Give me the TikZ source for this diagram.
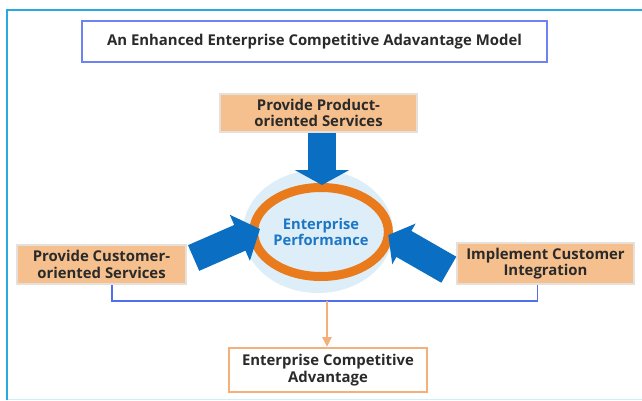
\documentclass[tikz,border=0pt]{standalone}
\usepackage{fontspec}
\setmainfont{Open Sans}
\usetikzlibrary{arrows.meta,shapes.geometric}

\definecolor{framecyan}{HTML}{2AA9E0}
\definecolor{framepale}{HTML}{CDEFFA}
\definecolor{titleblue}{HTML}{6E82F2}
\definecolor{boxfill}{HTML}{F5C08E}
\definecolor{boxedge}{HTML}{E6E0DA}
\definecolor{arrowblue}{HTML}{0A6FC2}
\definecolor{halo}{HTML}{DDEEF8}
\definecolor{ringorange}{HTML}{E97B1C}
\definecolor{perftext}{HTML}{1B77C6}
\definecolor{busblue}{HTML}{4F6EF0}
\definecolor{flow}{HTML}{F4B07A}
\definecolor{ink}{HTML}{2A2A2A}

\tikzset{
  boxtext/.style={font=\fontsize{14.9}{16.5}\selectfont\bfseries, text=ink, align=center, inner sep=0pt},
  titlebox/.style={boxtext, draw=titleblue, line width=1.5pt, fill=white},
  factor/.style={boxtext, fill=boxfill, draw=boxedge, line width=2pt},
  outcome/.style={boxtext, fill=white, draw=flow, line width=2pt},
  bigarrow/.style={draw=arrowblue, line width=#1},
  bus/.style={draw=busblue, line width=1.5pt},
  flowarrow/.style={draw=flow, line width=2.5pt, -{Triangle[length=10pt,width=9pt]}},
}

\begin{document}
\begin{tikzpicture}[x=1pt,y=-1pt]
\useasboundingbox (0,0) rectangle (642,401);
\clip (0,0) rectangle (642,401);
\fill[white] (0,0) rectangle (642,401);

% outer frame, running off the right-hand edge
\draw[framepale, line width=1.5pt] (7,399.5) -- (680,399.5);
\draw[framecyan, line width=1.5pt] (680,10) -- (7,10) -- (7,399.5);

% title
\node[titlebox, minimum width=465, minimum height=41] (title) at (314.5,41.5)
  {An Enhanced Enterprise Competitive Adavantage Model};

% central performance core
\node[ellipse, fill=halo, minimum width=150, minimum height=123, inner sep=0pt] (halo) at (318,231.5) {};
\node[ellipse, draw=ringorange, line width=9pt, minimum width=113, minimum height=89, inner sep=0pt,
      align=center, text=perftext, font=\fontsize{14.7}{16.5}\selectfont\bfseries] (perf) at (321,232)
  {Enterprise\\Performance};

% driving factors
\node[factor, minimum width=197, minimum height=38] (product) at (318.5,113)
  {Provide Product-\\oriented Services};
\node[factor, minimum width=169, minimum height=39] (customer) at (101.5,264.5)
  {Provide Customer-\\oriented Services};
\node[factor, minimum width=177, minimum height=41] (integration) at (545.5,263.5)
  {Implement Customer\\Integration};

% block arrows into the core
\coordinate (toptip) at (322,185);
\coordinate (ltail) at (193.6,258);
\coordinate (ltip) at (260,229);
\coordinate (rtail) at (448.8,269.7);
\coordinate (rtip) at (388.3,235);
\draw[bigarrow=28pt, -{Triangle[length=15pt,width=54pt]}] ([xshift=3.5pt]product.south) -- (toptip);
\draw[bigarrow=28pt, -{Triangle[length=22pt,width=49pt]}] (ltail) -- (ltip);
\draw[bigarrow=30pt, -{Triangle[length=18pt,width=46pt]}] (rtail) -- (rtip);

% outcome
\node[outcome, minimum width=198, minimum height=44] (result) at (328,370)
  {Enterprise Competitive\\Advantage};

\coordinate (junction) at (327,301);
\draw[bus] ([xshift=10.5pt]customer.south) |- (junction) -| ([xshift=-8pt]integration.south);
\draw[flowarrow] (junction) -- (junction |- result.north);
\end{tikzpicture}
\end{document}
